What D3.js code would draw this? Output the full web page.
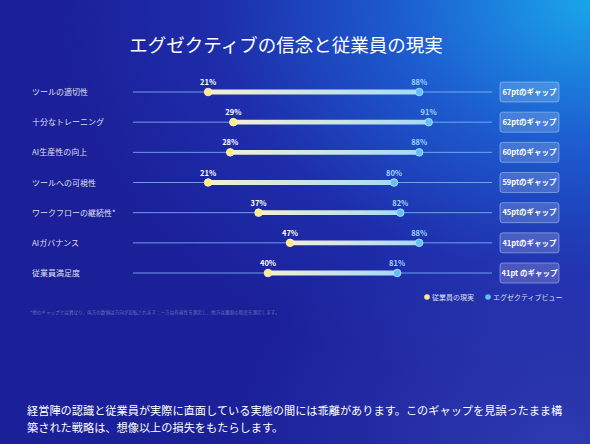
<!DOCTYPE html>
<html>
<head>
<meta charset="utf-8">
<script src="https://cdn.jsdelivr.net/npm/d3@7"></script>
<style>
  html, body { margin: 0; padding: 0; background: #1b2aa6; }
  svg { display: block; font-family: "Noto Sans CJK JP", "Noto Sans", sans-serif; }
</style>
</head>
<body>
<svg></svg>
<script>
// Data
const categories = ["ツールの適切性", "十分なトレーニング", "AI生産性の向上", "ツールへの可視性", "ワークフローの継続性*", "AIガバナンス", "従業員満足度"]
const employeeValues = [21, 29, 28, 21, 37, 47, 40]
const execValues = [88, 91, 88, 80, 82, 88, 81]
const gapLabels = ["67ptのギャップ", "62ptのギャップ", "60ptのギャップ", "59ptのギャップ", "45ptのギャップ", "41ptのギャップ", "41pt のギャップ"]
const legendLabels = ["従業員の現実", "エグゼクティブビュー"]

const width = 590
const height = 444

const svg = d3.select("svg")
    .attr("width", width)
    .attr("height", height)

// Background
const defs = svg.append("defs")
const bg = defs.append("radialGradient")
    .attr("id", "bg")
    .attr("cx", "100%").attr("cy", "0%").attr("r", "90%")
bg.append("stop").attr("offset", "0%").attr("stop-color", "#1aa6ea")
bg.append("stop").attr("offset", "35%").attr("stop-color", "#1d5ed0")
bg.append("stop").attr("offset", "70%").attr("stop-color", "#1e2dab")
bg.append("stop").attr("offset", "100%").attr("stop-color", "#1b2099")

const bg2 = defs.append("radialGradient")
    .attr("id", "bg2")
    .attr("cx", "95%").attr("cy", "100%").attr("r", "55%")
bg2.append("stop").attr("offset", "0%").attr("stop-color", "#3a4cc0").attr("stop-opacity", 0.6)
bg2.append("stop").attr("offset", "100%").attr("stop-color", "#3a4cc0").attr("stop-opacity", 0)

const barGrad = defs.append("linearGradient").attr("id", "bar")
barGrad.append("stop").attr("offset", "0%").attr("stop-color", "#f4f0d2")
barGrad.append("stop").attr("offset", "100%").attr("stop-color", "#a6daf8")

svg.append("rect").attr("width", width).attr("height", height).attr("fill", "url(#bg)")
svg.append("rect").attr("width", width).attr("height", height).attr("fill", "url(#bg2)")

// Title
svg.append("text")
    .attr("x", 286)
    .attr("y", 52)
    .attr("text-anchor", "middle")
    .attr("fill", "#ffffff")
    .attr("font-size", "18.5px")
    .text("エグゼクティブの信念と従業員の現実")

// Scales
const xScale = d3.scaleLinear()
    .domain([0, 100])
    .range([142, 457])

const yScale = d3.scalePoint()
    .domain(categories)
    .range([92, 273])

const rows = categories.map((c, i) => ({
    cat: c,
    emp: employeeValues[i],
    exec: execValues[i],
    gap: gapLabels[i]
}))

const g = svg.append("g")

const row = g.selectAll("g.row").data(rows)
    .enter()
    .append("g")
    .attr("class", "row")
    .attr("transform", d => `translate(0, ${yScale(d.cat)})`)

// Category labels
row.append("text")
    .attr("x", 32)
    .attr("y", 3)
    .attr("fill", "rgba(255,255,255,0.88)")
    .attr("font-size", "8px")
    .text(d => d.cat)

// Track line
row.append("line")
    .attr("x1", 133)
    .attr("x2", 492)
    .attr("stroke", "#8cc4ff")
    .attr("stroke-opacity", 0.75)
    .attr("stroke-width", 1)

// Gap bar (rect so the gradient has a real bounding box)
row.append("rect")
    .attr("x", d => xScale(d.emp))
    .attr("y", -2.4)
    .attr("width", d => xScale(d.exec) - xScale(d.emp))
    .attr("height", 4.8)
    .attr("rx", 2.4)
    .attr("fill", "url(#bar)")

// Dots
row.append("circle")
    .attr("cx", d => xScale(d.emp))
    .attr("r", 3.8)
    .attr("fill", "#ffe98c")
    .attr("stroke", "#fff7d0")
    .attr("stroke-width", 0.8)

row.append("circle")
    .attr("cx", d => xScale(d.exec))
    .attr("r", 3.8)
    .attr("fill", "#63c0f4")
    .attr("stroke", "#bfe6ff")
    .attr("stroke-width", 0.8)

// Value labels
row.append("text")
    .attr("x", d => xScale(d.emp))
    .attr("y", -7)
    .attr("text-anchor", "middle")
    .attr("fill", "#ffffff")
    .attr("font-size", "7.5px")
    .attr("font-weight", "bold")
    .text(d => d.emp + "%")

row.append("text")
    .attr("x", d => xScale(d.exec))
    .attr("y", -7)
    .attr("text-anchor", "middle")
    .attr("fill", "#9fd4ff")
    .attr("font-size", "7.5px")
    .attr("font-weight", "bold")
    .text(d => d.exec + "%")

// Gap boxes
row.append("rect")
    .attr("x", 500)
    .attr("y", -10)
    .attr("width", 59)
    .attr("height", 20)
    .attr("rx", 2.5)
    .attr("fill", "rgba(255,255,255,0.18)")
    .attr("stroke", "rgba(200,225,255,0.55)")
    .attr("stroke-width", 0.8)

row.append("text")
    .attr("x", 529.5)
    .attr("y", 2.8)
    .attr("text-anchor", "middle")
    .attr("fill", "#ffffff")
    .attr("font-size", "7.5px")
    .attr("font-weight", "bold")
    .text(d => d.gap)

// Legend
const legendColors = ["#ffe98c", "#63c0f4"]
const legendX = [427, 488]
const legend = svg.selectAll("g.legend").data(legendLabels)
    .enter()
    .append("g")
    .attr("class", "legend")
    .attr("transform", (d, i) => `translate(${legendX[i]}, 297)`)

legend.append("circle")
    .attr("r", 2.8)
    .attr("fill", (d, i) => legendColors[i])

legend.append("text")
    .attr("x", 5)
    .attr("y", 2.5)
    .attr("fill", "rgba(255,255,255,0.85)")
    .attr("font-size", "7px")
    .text(d => d)

// Footnote
svg.append("text")
    .attr("x", 30)
    .attr("y", 314)
    .attr("fill", "rgba(255,255,255,0.35)")
    .attr("font-size", "4.6px")
    .text("*他のギャップとは異なり、両方の数値は方向が反転されます：一方は有能性を測定し、他方は離脱の程度を測定します。")

// Bottom note
const note = svg.append("text")
    .attr("fill", "#ffffff")
    .attr("font-size", "11.2px")
note.append("tspan")
    .attr("x", 27)
    .attr("y", 415)
    .text("経営陣の認識と従業員が実際に直面している実態の間には乖離があります。このギャップを見誤ったまま構")
note.append("tspan")
    .attr("x", 27)
    .attr("y", 432)
    .text("築された戦略は、想像以上の損失をもたらします。")
</script>
</body>
</html>
